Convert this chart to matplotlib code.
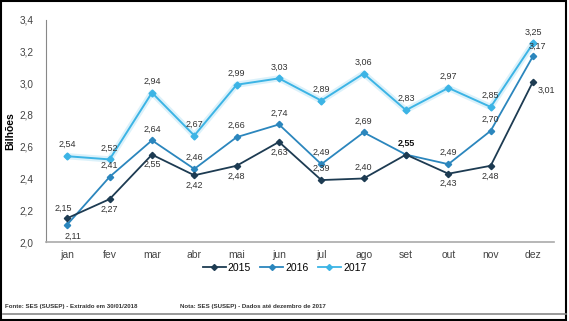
import matplotlib.pyplot as plt
from matplotlib.lines import Line2D

plt.rcParams["font.family"] = ["Liberation Sans", "DejaVu Sans"]

months = ["jan", "fev", "mar", "abr", "mai", "jun", "jul", "ago", "set", "out", "nov", "dez"]
v2015 = [2.15, 2.27, 2.55, 2.42, 2.48, 2.63, 2.39, 2.40, 2.55, 2.43, 2.48, 3.01]
v2016 = [2.11, 2.41, 2.64, 2.46, 2.66, 2.74, 2.49, 2.69, 2.55, 2.49, 2.70, 3.17]
v2017 = [2.54, 2.52, 2.94, 2.67, 2.99, 3.03, 2.89, 3.06, 2.83, 2.97, 2.85, 3.25]
yticks = [2.0, 2.2, 2.4, 2.6, 2.8, 3.0, 3.2, 3.4]

c15 = "#1d3b52"
c16 = "#2b86bd"
c17 = "#3cb4e5"

fig = plt.figure(figsize=(5.69, 3.21), dpi=100)
ax = fig.add_axes([0.081, 0.246, 0.893, 0.693])
x = list(range(len(months)))

ax.plot(x, v2017, color=c17, lw=4.5, alpha=0.18, solid_capstyle="round")
ax.plot(x, v2017, color=c17, lw=1.4, marker="D", ms=3.5)
ax.plot(x, v2016, color=c16, lw=1.3, marker="D", ms=3.2)
ax.plot(x, v2015, color=c15, lw=1.3, marker="D", ms=3.2)

fs = 6.5
lab = "#333333"
def fmt(v):
    return f"{v:.2f}".replace(".", ",")

# 2017 labels above
for i, v in enumerate(v2017):
    ax.annotate(fmt(v), (i, v), xytext=(0, 5), textcoords="offset points",
                ha="center", va="bottom", fontsize=fs, color=lab)
# 2016 labels
for i, v in enumerate(v2016):
    if i == 8:
        continue
    off = (0, 5)
    va = "bottom"
    if i == 0:
        off = (4, -5); va = "top"
    if i == 11:
        off = (3, 4)
    ax.annotate(fmt(v), (i, v), xytext=off, textcoords="offset points",
                ha="center", va=va, fontsize=fs, color=lab)
# 2015 labels
for i, v in enumerate(v2015):
    off = (0, -4)
    va = "top"
    ha = "center"
    if i == 0:
        off = (-3, 4); va = "bottom"
    if i in (6, 7, 8):
        off = (0, 5); va = "bottom"
    if i == 11:
        off = (3, -3); ha = "left"; va = "top"
    ax.annotate(fmt(v), (i, v), xytext=off, textcoords="offset points",
                ha=ha, va=va, fontsize=fs, color="#111111" if i == 8 else lab,
                fontweight="bold" if i == 8 else "normal")

ax.set_xlim(-0.5, 11.5)
ax.set_ylim(2.0, 3.4)
ax.set_yticks(yticks)
ax.set_yticklabels([fmt(t)[:-1] for t in yticks], fontsize=7.2, color="#444444")
ax.set_xticks(x)
ax.set_xticklabels(months, fontsize=7.5, color="#444444")
ax.tick_params(length=0, pad=6)
ax.tick_params(axis="y", pad=9)
for s in ["top", "right"]:
    ax.spines[s].set_visible(False)
ax.spines["left"].set_color("#888888")
ax.spines["bottom"].set_color("#aaaaaa")
ax.spines["bottom"].set_linewidth(1.2)
ax.set_ylabel("Bilhões", fontsize=7.5, fontweight="bold")
ax.yaxis.set_label_coords(-0.06, 0.5)

handles = [Line2D([], [], color=c, marker="D", ms=3, lw=1.3) for c in (c15, c16, c17)]
fig.legend(handles, ["2015", "2016", "2017"], loc="center", bbox_to_anchor=(0.5, 0.165),
           ncol=3, frameon=False, fontsize=7.5, handlelength=2.2, columnspacing=0.9,
           handletextpad=0.2)

fig.text(0.009, 0.045, "Fonte: SES (SUSEP) - Extraído em 30/01/2018", fontsize=4.4,
         fontweight="bold", color="#333333", va="center")
fig.text(0.316, 0.045, "Nota: SES (SUSEP) - Dados até dezembro de 2017", fontsize=4.4,
         fontweight="bold", color="#333333", va="center")
fig.add_artist(Line2D([0.005, 0.995], [0.022, 0.022], color="#888888", lw=1.2))
fig.add_artist(plt.Rectangle((0.002, 0.004), 0.993, 0.992, fill=False, ec="black", lw=1.5,
                             transform=fig.transFigure))

fig.savefig("out.png", dpi=100)
